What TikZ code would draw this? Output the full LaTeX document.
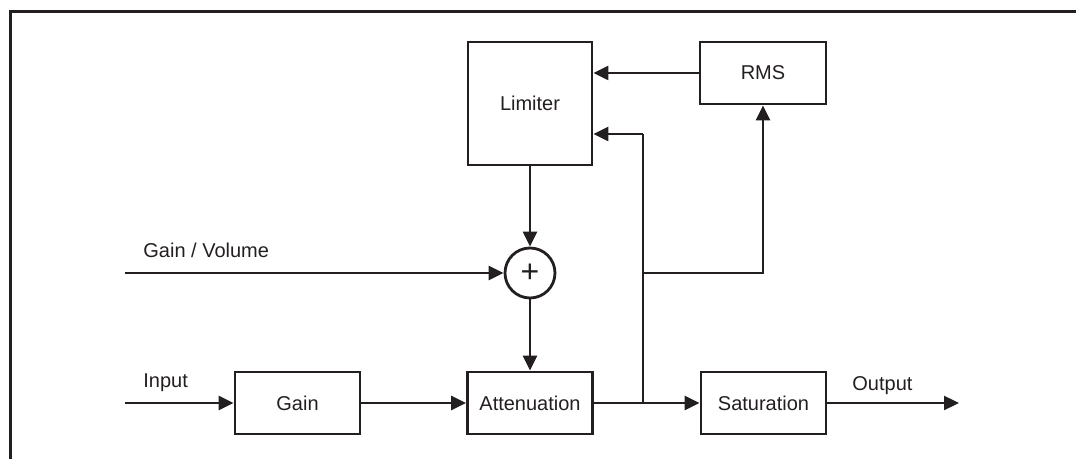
\documentclass[tikz,border=0pt]{standalone}
\usepackage{fontspec}
\setmainfont{Liberation Sans}
\usetikzlibrary{arrows.meta}
\definecolor{ink}{RGB}{35,31,32}
\tikzset{
  blk/.style={draw=ink, line width=1.4pt, rectangle, minimum width=62.5pt, minimum height=31pt, inner sep=0pt, font=\fontsize{10pt}{12pt}\selectfont, text=ink},
  conn/.style={draw=ink, line width=1.15pt},
  arr/.style={conn, -{Triangle[length=7.5pt,width=7pt]}},
  lbl/.style={inner sep=0pt, font=\fontsize{10pt}{12pt}\selectfont, text=ink}
}
\begin{document}
\begin{tikzpicture}[x=0.5pt, y=-0.5pt]
\useasboundingbox (0,0) rectangle (1076,459);
\clip (0,0) rectangle (1076,459);
% frame
\draw[ink, line width=1.4pt] (10.5,470) -- (10.5,11.5) -- (1090,11.5);
% blocks
\node[blk, minimum width=62pt, minimum height=61.5pt] (lim) at (530,103.5) {Limiter};
\node[blk, minimum width=63pt] (rms) at (763,73) {RMS};
\node[blk] (gain) at (297.5,403) {Gain};
\node[blk] (att) at (530,403) {Attenuation};
\node[blk] (sat) at (763.5,403) {Saturation};
\node[draw=ink, line width=1.4pt, circle, minimum size=25pt, inner sep=0pt, text=ink, font=\fontsize{16pt}{16pt}\selectfont] (sum) at (530,273) {\raisebox{-1.5pt}{+}};
% coordinates
\coordinate (gv) at (125,273);
\coordinate (inp) at (125,403);
\coordinate (outp) at (959,403);
\coordinate (j) at (643,403);
\coordinate (k) at (643,273);
\coordinate (l) at (643,134);
% connectors
\draw[arr] (rms.west) -- (rms.west -| lim.east);
\draw[conn] (j) -- (l);
\draw[arr] (l) -- (l -| lim.east);
\draw[arr] (k) -| (rms.south);
\draw[arr] (lim.south) -- (sum.north);
\draw[arr] (sum.south) -- (att.north);
\draw[arr] (gv) -- (sum.west);
\draw[arr] (inp) -- (gain.west);
\draw[arr] (gain.east) -- (att.west);
\draw[conn] (att.east) -- (j);
\draw[arr] (j) -- (sat.west);
\draw[arr] (sat.east) -- (outp);
% labels
\node[lbl, anchor=base west] (lgv) at (143,258) {Gain / Volume};
\node[lbl, anchor=base west] (lin) at (143,388) {Input};
\node[lbl, anchor=base west] (lout) at (852,391) {Output};
\end{tikzpicture}
\end{document}
